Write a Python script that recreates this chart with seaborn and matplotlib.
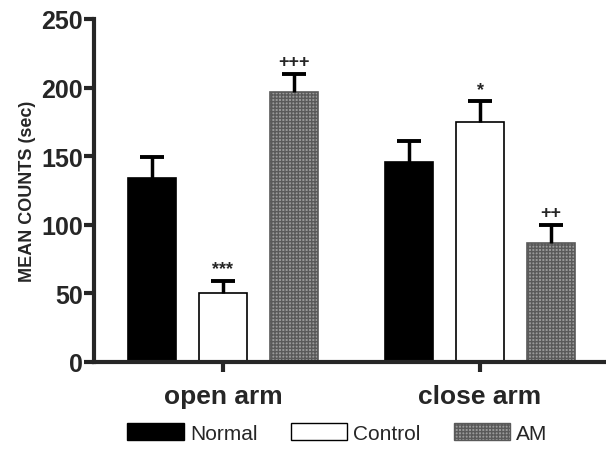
import numpy as np
import pandas as pd
import matplotlib
matplotlib.use("Agg")
import matplotlib.pyplot as plt
import seaborn as sns
from matplotlib.patches import Patch

# dados
grupos = ["open arm", "close arm"]
tratamentos = ["Normal", "Control", "AM"]
medias = {"Normal": [134, 146], "Control": [50, 175], "AM": [197, 87]}
erros = {"Normal": [15, 15], "Control": [9, 15], "AM": [13, 13]}
marcas = {"Normal": ["", ""], "Control": ["***", "*"], "AM": ["+++", "++"]}

cores = {"Normal": "black", "Control": "white", "AM": "#9a9a9a"}

linhas = []
for t in tratamentos:
    for i, g in enumerate(grupos):
        linhas.append({"grupo": g, "trat": t, "valor": medias[t][i]})
df = pd.DataFrame(linhas)

sns.set_style("ticks")
plt.rcParams["font.family"] = ["Liberation Sans", "DejaVu Sans"]

fig = plt.figure(figsize=(6.06, 4.52), dpi=100)
ax = fig.add_axes([0.155, 0.197, 0.845, 0.759])

sns.barplot(data=df, x="grupo", y="valor", hue="trat", order=grupos, hue_order=tratamentos,
            palette=cores, width=0.83, gap=0.32, edgecolor="black", linewidth=1.2,
            errorbar=None, legend=False, ax=ax)

# hachura no AM e barras de erro (so para cima)
for ti, t in enumerate(tratamentos):
    for gi in range(len(grupos)):
        p = ax.patches[ti * len(grupos) + gi]
        if t == "AM":
            p.set_hatch("+++++")
            p.set_edgecolor("#5a5a5a")
        xc = p.get_x() + p.get_width() / 2
        v = medias[t][gi]
        e = erros[t][gi]
        ax.vlines(xc, v, v + e, color="black", linewidth=2.5, zorder=1)
        ax.hlines(v + e, xc - 0.047, xc + 0.047, color="black", linewidth=2.8, zorder=1)
        if marcas[t][gi]:
            ax.text(xc, v + e + 2.5, marcas[t][gi], ha="center", va="bottom",
                    fontsize=13, fontweight="bold")

ax.set_ylim(0, 250)
ax.set_xlim(-0.502, 1.49)
ax.set_yticks([0, 50, 100, 150, 200, 250])
ax.set_ylabel("MEAN COUNTS (sec)", fontsize=13, fontweight="bold", labelpad=4)
ax.set_xlabel("")
for s in ["left", "bottom"]:
    ax.spines[s].set_linewidth(3)
sns.despine(ax=ax)
ax.tick_params(axis="y", width=3, length=7, labelsize=18, pad=1)
ax.tick_params(axis="x", width=3, length=7, labelsize=19, pad=9)
for lab in ax.get_yticklabels() + ax.get_xticklabels():
    lab.set_fontweight("heavy")

# legenda embaixo
handles = [Patch(facecolor="black", edgecolor="black"),
           Patch(facecolor="white", edgecolor="black"),
           Patch(facecolor="#9a9a9a", edgecolor="#5a5a5a", hatch="+++++")]
fig.legend(handles, tratamentos, loc="center", bbox_to_anchor=(0.557, 0.04), ncol=3,
           frameon=False, fontsize=15, handlelength=2.7, handleheight=0.85,
           columnspacing=1.6, handletextpad=0.3)

fig.savefig("out.png", dpi=100, facecolor="white")
